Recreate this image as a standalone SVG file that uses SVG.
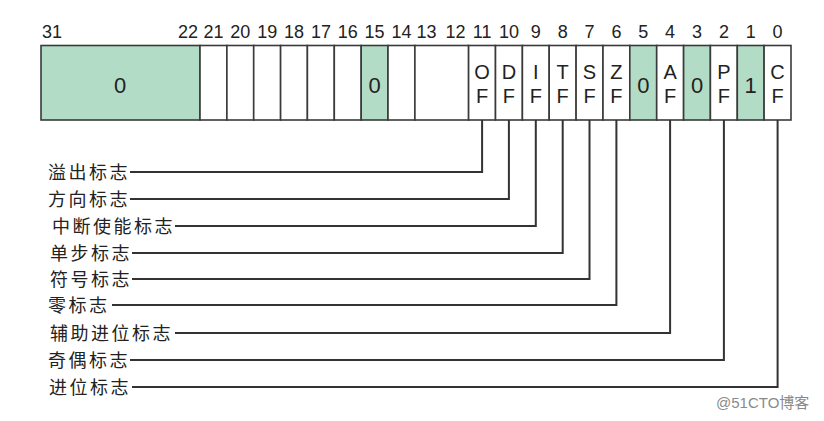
<svg xmlns="http://www.w3.org/2000/svg" width="824" height="421" viewBox="0 0 824 421">
<style>
.bg{fill:#ffffff}
.cell{fill:#ffffff;stroke:#3a3a3a;stroke-width:1.6}
.g{fill:#b3dcc6}
.num{font-family:"Liberation Sans",Arial,sans-serif;font-size:18px;fill:#222;text-anchor:middle}
.flag{font-family:"Liberation Sans",Arial,sans-serif;font-size:20px;fill:#222;text-anchor:middle}
.val{font-family:"Liberation Sans",Arial,sans-serif;font-size:22px;fill:#222;text-anchor:middle}
.lbl{font-family:"Liberation Sans","Noto Sans CJK SC",sans-serif;font-size:18px;fill:#222;letter-spacing:2.5px}
.conn{fill:none;stroke:#333;stroke-width:2}
.wm{font-family:"Liberation Sans","Noto Sans CJK SC",sans-serif;font-size:15px;fill:#8a8a8a}
</style>
<rect class="bg" x="0" y="0" width="824" height="421"/>

<g id="bit-numbers">
<text class="num" x="42" y="38" text-anchor="start" style="text-anchor:start">31</text>
<text class="num" x="198" y="38" style="text-anchor:end">22</text>
<text class="num" x="213.4" y="38">21</text>
<text class="num" x="240.3" y="38">20</text>
<text class="num" x="267.2" y="38">19</text>
<text class="num" x="294" y="38">18</text>
<text class="num" x="320.9" y="38">17</text>
<text class="num" x="347.7" y="38">16</text>
<text class="num" x="374.6" y="38">15</text>
<text class="num" x="401.5" y="38">14</text>
<text class="num" x="426.5" y="38">13</text>
<text class="num" x="455.5" y="38">12</text>
<text class="num" x="482.1" y="38">11</text>
<text class="num" x="508.9" y="38">10</text>
<text class="num" x="535.8" y="38">9</text>
<text class="num" x="562.7" y="38">8</text>
<text class="num" x="589.5" y="38">7</text>
<text class="num" x="616.4" y="38">6</text>
<text class="num" x="643.3" y="38">5</text>
<text class="num" x="670.1" y="38">4</text>
<text class="num" x="697" y="38">3</text>
<text class="num" x="723.9" y="38">2</text>
<text class="num" x="750.7" y="38">1</text>
<text class="num" x="777.6" y="38">0</text>
</g>

<g id="register">
<g id="bits31-22"><rect class="cell g" x="41" y="45.5" width="159" height="74.5"/><text class="val" x="120" y="93">0</text></g>
<g id="bit21"><rect class="cell" x="200" y="45.5" width="26.9" height="74.5"/></g>
<g id="bit20"><rect class="cell" x="226.9" y="45.5" width="26.8" height="74.5"/></g>
<g id="bit19"><rect class="cell" x="253.7" y="45.5" width="26.9" height="74.5"/></g>
<g id="bit18"><rect class="cell" x="280.6" y="45.5" width="26.8" height="74.5"/></g>
<g id="bit17"><rect class="cell" x="307.4" y="45.5" width="26.9" height="74.5"/></g>
<g id="bit16"><rect class="cell" x="334.3" y="45.5" width="26.9" height="74.5"/></g>
<g id="bit15"><rect class="cell g" x="361.2" y="45.5" width="26.8" height="74.5"/><text class="val" x="374.6" y="93">0</text></g>
<g id="bit14"><rect class="cell" x="388" y="45.5" width="26.9" height="74.5"/></g>
<g id="bits13-12"><rect class="cell" x="414.9" y="45.5" width="53.7" height="74.5"/></g>
<g id="OF"><rect class="cell" x="468.6" y="45.5" width="26.9" height="74.5"/><text class="flag" x="482.1" y="78.5">O</text><text class="flag" x="482.1" y="103">F</text></g>
<g id="DF"><rect class="cell" x="495.5" y="45.5" width="26.9" height="74.5"/><text class="flag" x="508.9" y="78.5">D</text><text class="flag" x="508.9" y="103">F</text></g>
<g id="IF"><rect class="cell" x="522.4" y="45.5" width="26.8" height="74.5"/><text class="flag" x="535.8" y="78.5">I</text><text class="flag" x="535.8" y="103">F</text></g>
<g id="TF"><rect class="cell" x="549.2" y="45.5" width="26.9" height="74.5"/><text class="flag" x="562.7" y="78.5">T</text><text class="flag" x="562.7" y="103">F</text></g>
<g id="SF"><rect class="cell" x="576.1" y="45.5" width="26.9" height="74.5"/><text class="flag" x="589.5" y="78.5">S</text><text class="flag" x="589.5" y="103">F</text></g>
<g id="ZF"><rect class="cell" x="603" y="45.5" width="26.8" height="74.5"/><text class="flag" x="616.4" y="78.5">Z</text><text class="flag" x="616.4" y="103">F</text></g>
<g id="bit5"><rect class="cell g" x="629.8" y="45.5" width="26.9" height="74.5"/><text class="val" x="643.3" y="93">0</text></g>
<g id="AF"><rect class="cell" x="656.7" y="45.5" width="26.9" height="74.5"/><text class="flag" x="670.1" y="78.5">A</text><text class="flag" x="670.1" y="103">F</text></g>
<g id="bit3"><rect class="cell g" x="683.6" y="45.5" width="26.8" height="74.5"/><text class="val" x="697" y="93">0</text></g>
<g id="PF"><rect class="cell" x="710.4" y="45.5" width="26.9" height="74.5"/><text class="flag" x="723.9" y="78.5">P</text><text class="flag" x="723.9" y="103">F</text></g>
<g id="bit1"><rect class="cell g" x="737.3" y="45.5" width="26.8" height="74.5"/><text class="val" x="750.7" y="93">1</text></g>
<g id="CF"><rect class="cell" x="764.1" y="45.5" width="26.9" height="74.5"/><text class="flag" x="777.6" y="78.5">C</text><text class="flag" x="777.6" y="103">F</text></g>
</g>

<g id="labels">
<g id="lbl-OF"><text class="lbl" x="48" y="178.5">溢出标志</text></g>
<g id="lbl-DF"><text class="lbl" x="48" y="205.5">方向标志</text></g>
<g id="lbl-IF"><text class="lbl" x="52" y="232.5">中断使能标志</text></g>
<g id="lbl-TF"><text class="lbl" x="50" y="259.5">单步标志</text></g>
<g id="lbl-SF"><text class="lbl" x="50" y="285.5">符号标志</text></g>
<g id="lbl-ZF"><text class="lbl" x="48" y="311.5">零标志</text></g>
<g id="lbl-AF"><text class="lbl" x="50" y="339.5">辅助进位标志</text></g>
<g id="lbl-PF"><text class="lbl" x="48" y="366.5">奇偶标志</text></g>
<g id="lbl-CF"><text class="lbl" x="49" y="393.5">进位标志</text></g>
</g>

<g id="connectors">
<polyline class="conn" points="482.1,120 482.1,172 130,172"/>
<polyline class="conn" points="508.9,120 508.9,199 130,199"/>
<polyline class="conn" points="535.8,120 535.8,226 175,226"/>
<polyline class="conn" points="562.7,120 562.7,253 132,253"/>
<polyline class="conn" points="589.5,120 589.5,279 132,279"/>
<polyline class="conn" points="616.4,120 616.4,305 112,305"/>
<polyline class="conn" points="670.1,120 670.1,333 175,333"/>
<polyline class="conn" points="723.9,120 723.9,360 130,360"/>
<polyline class="conn" points="777.6,120 777.6,387 132,387"/>
</g>

<text class="wm" x="716" y="408">@51CTO博客</text>
</svg>
